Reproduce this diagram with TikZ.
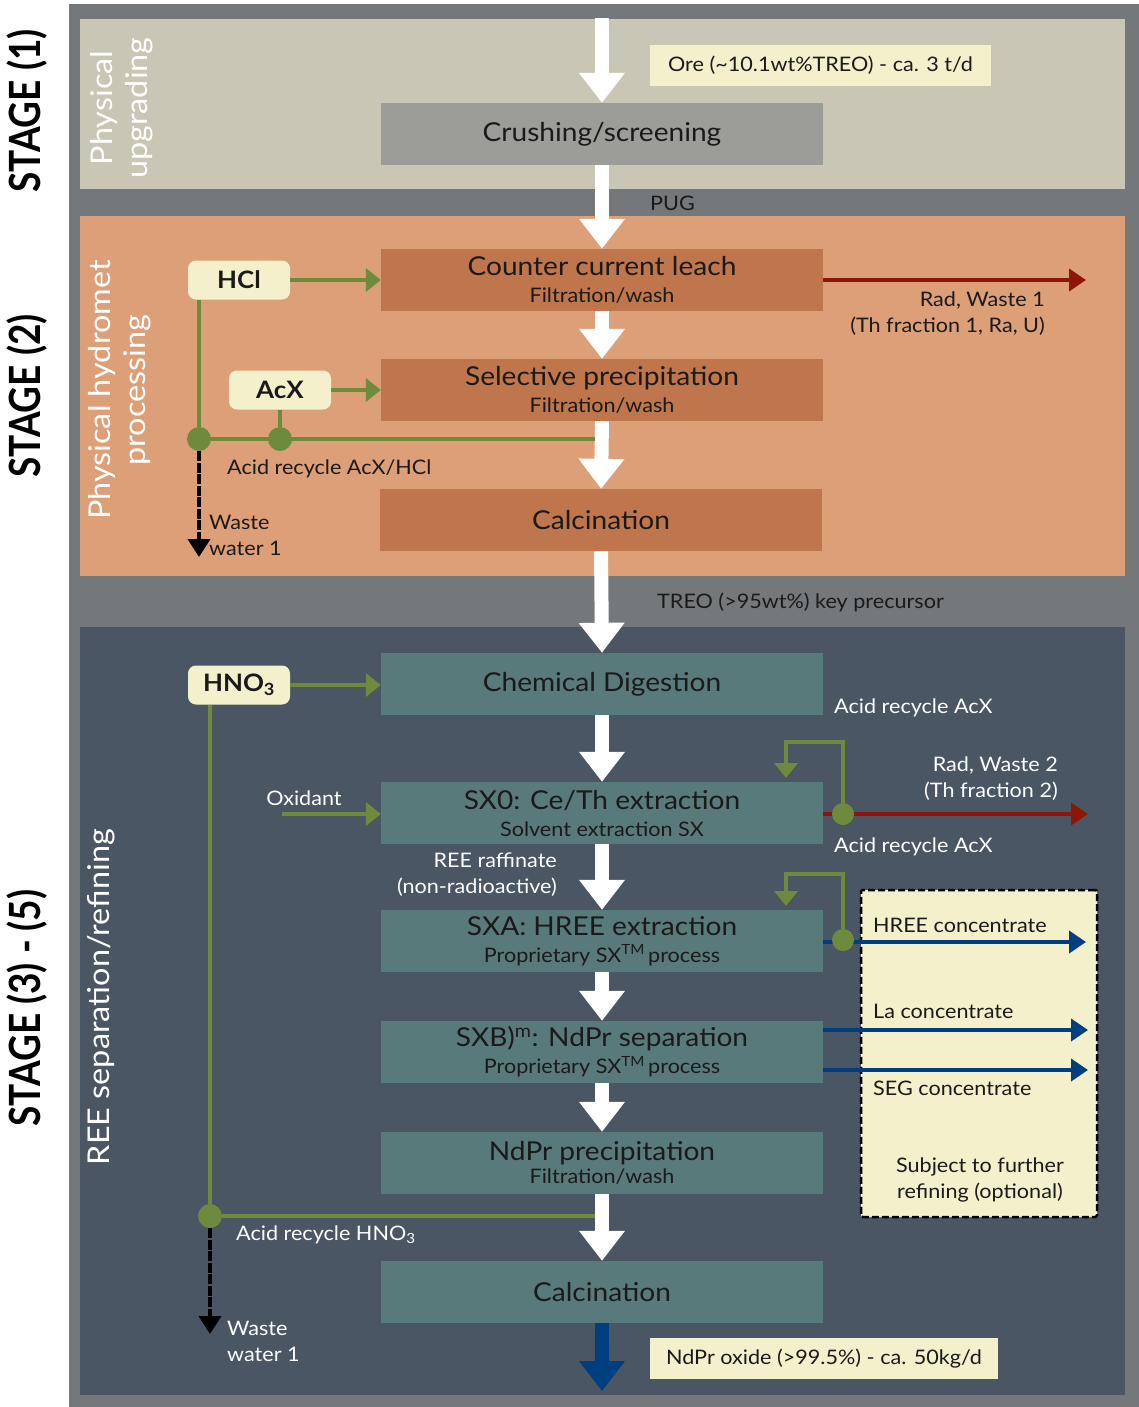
\documentclass[tikz,border=0pt]{standalone}
\usepackage{fontspec}
\setmainfont{Lato}[FakeStretch=1.08]
\newfontfamily\stagefont{Lato}[FakeStretch=0.86]
\usetikzlibrary{arrows.meta}
\begin{document}
\begin{tikzpicture}[x=1pt,y=-1pt,
  proc/.style={rectangle,minimum width=442pt,minimum height=62pt,inner sep=0pt,align=center,text=ink,font=\fontsize{26}{27}\selectfont},
  tag/.style={rectangle,fill=paleyel,inner sep=0pt,minimum height=41pt,text=ink,font=\fontsize{20}{24}\selectfont},
  acid/.style={rectangle,rounded corners=8pt,fill=paleyel,minimum width=102pt,minimum height=39pt,inner sep=0pt,text=ink,font=\fontsize{24}{26}\selectfont\bfseries},
  note/.style={inner sep=0pt,text=ink,font=\fontsize{20}{26}\selectfont},
  wnote/.style={note,text=white},
  side/.style={inner sep=0pt,text=white,rotate=90,align=center,font=\fontsize{30}{35}\selectfont},
  stagelbl/.style={inner sep=0pt,rotate=90,text=black,font=\fontsize{43}{44}\selectfont\stagefont\bfseries},
  flow/.style={line width=14pt,-{Triangle[length=30pt,width=44pt]}},
  feed/.style={draw=leaf,line width=4pt,-{Triangle[length=15pt,width=23pt]}},
  pipe/.style={draw=leaf,line width=4pt},
  dot/.style={circle,fill=leaf,minimum size=24pt,inner sep=0pt},
  rad/.style={draw=radred,line width=4pt,-{Triangle[length=17pt,width=22pt]}},
  conc/.style={draw=concblue,line width=4pt,-{Triangle[length=17pt,width=22pt]}},
  waste/.style={draw=black,line width=4pt,dash pattern=on 10pt off 1.5pt,-{Triangle[length=18pt,width=22pt]}}]
  \definecolor{frame}{HTML}{74787B}
  \definecolor{stageone}{HTML}{C9C6B5}
  \definecolor{stagetwo}{HTML}{DD9F77}
  \definecolor{stagethree}{HTML}{4A5664}
  \definecolor{crushfill}{HTML}{9C9D98}
  \definecolor{hydrofill}{HTML}{C0764D}
  \definecolor{reefill}{HTML}{597A7A}
  \definecolor{paleyel}{HTML}{F5F0CC}
  \definecolor{leaf}{HTML}{6E8B3D}
  \definecolor{radred}{HTML}{8E1608}
  \definecolor{concblue}{HTML}{003F7F}
  \definecolor{ink}{HTML}{1A1A1A}
  \useasboundingbox (0,0) rectangle (1139,1407);
  \fill[frame] (69,4) rectangle (1139,1407);
  \fill[stageone] (80,19) rectangle (1125,189);
  \fill[stagetwo] (80,216) rectangle (1125,576);
  \fill[stagethree] (80,627) rectangle (1125,1395);
  \node[stagelbl] (stA) at (27,111) {STAGE (1)};
  \node[stagelbl] (stB) at (27,396) {STAGE (2)};
  \node[stagelbl] (stC) at (27,1008) {STAGE (3) - (5)};
  \node[side] (sideA) at (122,108) {Physical\\upgrading};
  \node[side] (sideB) at (120,390) {Physical hydromet\\processing};
  \node[side] (sideC) at (101,997) {REE separation/refining};
  \node[proc,fill=crushfill] (crush) at (602,134) {Crushing/screening};
  \node[proc,fill=hydrofill] (leach) at (602,280) {Counter current leach\\{\fontsize{20}{22}\selectfont Filtration/wash}};
  \node[proc,fill=hydrofill] (selprec) at (602,390) {Selective precipitation\\{\fontsize{20}{22}\selectfont Filtration/wash}};
  \node[proc,fill=hydrofill] (calcA) at (601,520) {Calcination};
  \node[proc,fill=reefill] (digest) at (602,684) {Chemical Digestion};
  \node[proc,fill=reefill] (sxzero) at (602,813) {SX0: Ce/Th extraction\\{\fontsize{20}{22}\selectfont Solvent extraction SX}};
  \node[proc,fill=reefill] (sxa) at (602,941) {SXA: HREE extraction\\{\fontsize{20}{22}\selectfont Proprietary SX\textsuperscript{TM}\,process}};
  \node[proc,fill=reefill] (sxb) at (602,1052) {SXB)\textsuperscript{m}: NdPr separation\\{\fontsize{20}{22}\selectfont Proprietary SX\textsuperscript{TM}\,process}};
  \node[proc,fill=reefill] (ndprec) at (602,1163) {NdPr precipitation\\[-4pt]{\fontsize{20}{22}\selectfont Filtration/wash}};
  \node[proc,fill=reefill] (calcB) at (602,1292) {Calcination};
  \node[tag,minimum width=341pt] (ore) at (820.5,65.5) {Ore (\textasciitilde10.1wt\%TREO) - ca. 3 t/d};
  \node[tag,minimum width=348pt] (oxide) at (824,1358.5) {NdPr oxide (>99.5\%) - ca. 50kg/d};
  \node[note,anchor=west] (pug) at (650,203) {PUG};
  \node[note,anchor=west] (treo) at (657,602) {TREO (>95wt\%) key precursor};
  \coordinate (top) at (602,18);
  \coordinate (out) at (602,1391);
  \draw[flow,white] (top) -- (crush.north);
  \draw[flow,white] (crush.south) -- (leach.north);
  \draw[flow,white] (leach.south) -- (selprec.north);
  \draw[flow,white] (selprec.south) -- (calcA.north);
  \draw[flow,white] (calcA.south) -- (digest.north);
  \draw[flow,white] (digest.south) -- (sxzero.north);
  \draw[flow,white] (sxzero.south) -- (sxa.north);
  \draw[flow,white] (sxa.south) -- (sxb.north);
  \draw[flow,white] (sxb.south) -- (ndprec.north);
  \draw[flow,white] (ndprec.south) -- (calcB.north);
  \draw[flow,concblue] (calcB.south) -- (out);
  \node[acid] (hcl) at (239,280) {HCl};
  \node[acid] (acx) at (280,390) {AcX};
  \node[acid] (hno) at (239,685) {HNO\textsubscript{3}};
  \draw[feed] (hcl.east) -- (leach.west |- hcl.east);
  \draw[feed] (acx.east) -- (selprec.west |- acx.east);
  \draw[feed] (hno.east) -- (digest.west |- hno.east);
  \node[dot] (jhcl) at (199,439) {};
  \node[dot] (jacx) at (280,439) {};
  \coordinate (recA) at (595,439);
  \coordinate (wwA) at (199,557);
  \draw[pipe] (jhcl) -- (jhcl |- hcl.south);
  \draw[pipe] (jacx) -- (acx.south);
  \draw[pipe] (recA) -- (jhcl);
  \draw[waste] (jhcl) -- (wwA);
  \node[note,anchor=west] (recAlbl) at (227,469) {Acid recycle AcX/HCl};
  \node[note,anchor=west,align=left] (wwAlbl) at (209,535) {Waste\\water 1};
  \coordinate (radA) at (1086,280);
  \draw[rad] (leach.east) -- (radA);
  \node[note,anchor=north east,align=right] (radAlbl) at (1045,292) {Rad, Waste 1\\(Th fraction 1, Ra, U)};
  \node[wnote,anchor=south] (oxlbl) at (304,806) {Oxidant};
  \coordinate (oxin) at (282,814);
  \draw[feed] (oxin) -- (sxzero.west |- oxin);
  \node[wnote,anchor=east,align=right] (raff) at (557,875) {REE raffinate\\(non-radioactive)};
  \node[wnote,anchor=west] (recBlbl) at (834,708) {Acid recycle AcX};
  \node[wnote,anchor=west] (recClbl) at (834,847) {Acid recycle AcX};
  \node[wnote,anchor=east,align=right] (radBlbl) at (1058,779) {Rad, Waste 2\\(Th fraction 2)};
  \node[draw=black,line width=2.5pt,dash pattern=on 7pt off 3pt,fill=paleyel,rounded corners=2pt,minimum width=236pt,minimum height=327pt,inner sep=0pt] (opt) at (979,1053.5) {};
  \node[note,align=center] (optlbl) at (980,1180) {Subject to further\\refining (optional)};
  \node[note,anchor=west] (hreelbl) at (873,925) {HREE concentrate};
  \node[note,anchor=west] (lalbl) at (873,1011) {La concentrate};
  \node[note,anchor=west] (seglbl) at (873,1088) {SEG concentrate};
  \coordinate (radB) at (1088,814);
  \coordinate (hreeout) at (1086,942);
  \coordinate (laout) at (1088,1030);
  \coordinate (segout) at (1088,1070);
  \draw[rad] (sxzero.east |- radB) -- (radB);
  \draw[conc] (sxa.east |- hreeout) -- (hreeout);
  \draw[conc] (sxb.east |- laout) -- (laout);
  \draw[conc] (sxb.east |- segout) -- (segout);
  \node[dot,minimum size=22pt] (jsx0) at (843,814) {};
  \node[dot,minimum size=22pt] (jsxa) at (843,940) {};
  \coordinate (backA) at (786,778);
  \coordinate (backB) at (786,906);
  \draw[feed] (jsx0) |- (786,742) -- (backA);
  \draw[feed] (jsxa) |- (786,874) -- (backB);
  \node[dot] (jhno) at (210,1216) {};
  \coordinate (recD) at (595,1216);
  \coordinate (wwB) at (210,1334);
  \draw[pipe] (jhno) -- (jhno |- hno.south);
  \draw[pipe] (recD) -- (jhno);
  \draw[waste] (jhno) -- (wwB);
  \node[wnote,anchor=west] (recDlbl) at (236,1235) {Acid recycle HNO\textsubscript{3}};
  \node[wnote,anchor=west,align=left] (wwBlbl) at (227,1341) {Waste\\water 1};
\end{tikzpicture}
\end{document}
